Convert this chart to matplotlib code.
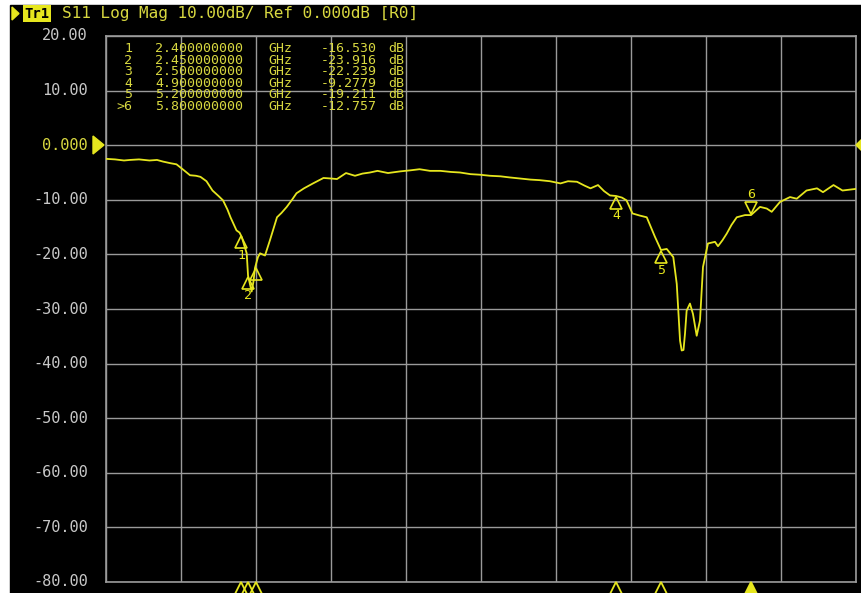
import matplotlib
matplotlib.use("Agg")
import matplotlib.pyplot as plt
from matplotlib.patches import Rectangle, Polygon
from matplotlib.transforms import offset_copy

# ── Data ────────────────────────────────────────────────────────────────────
freq_ghz = [1.50, 1.56, 1.62, 1.66, 1.72, 1.79, 1.84, 1.88, 1.93, 1.97,
            2.02, 2.06, 2.10, 2.13, 2.17, 2.21, 2.25, 2.28, 2.31, 2.33,
            2.37, 2.39, 2.405, 2.42, 2.438, 2.447, 2.46, 2.471, 2.483, 2.493,
            2.513, 2.527, 2.56, 2.593, 2.64, 2.67, 2.705, 2.74, 2.77, 2.82,
            2.88, 2.95, 3.00, 3.04, 3.10, 3.16, 3.21, 3.26, 3.31, 3.38,
            3.46, 3.53, 3.59, 3.66, 3.73, 3.80, 3.86, 3.93, 3.99, 4.06,
            4.13, 4.19, 4.26, 4.33, 4.39, 4.46, 4.53, 4.58, 4.64, 4.69,
            4.73, 4.78, 4.82, 4.86, 4.90, 4.94, 4.97, 5.01, 5.06, 5.105,
            5.16, 5.20, 5.238, 5.282, 5.305, 5.327, 5.338, 5.35, 5.36, 5.371,
            5.393, 5.413, 5.438, 5.46, 5.48, 5.513, 5.56, 5.58, 5.61, 5.638,
            5.67, 5.705, 5.76, 5.80, 5.86, 5.905, 5.938, 5.993, 6.06, 6.105,
            6.17, 6.24, 6.28, 6.35, 6.41, 6.50]
s11_db = [-2.5, -2.6, -2.8, -2.7, -2.6, -2.8, -2.7, -3.0, -3.3, -3.5,
          -4.6, -5.5, -5.6, -5.8, -6.6, -8.3, -9.3, -10.1, -11.8, -13.2,
          -15.6, -16.0, -16.8, -18.2, -19.8, -23.9, -25.5, -26.8, -25.0, -22.5,
          -20.5, -19.8, -20.2, -17.4, -13.2, -12.4, -11.3, -10.0, -8.8, -7.9,
          -7.0, -6.0, -6.1, -6.2, -5.1, -5.6, -5.2, -5.0, -4.7, -5.1,
          -4.8, -4.6, -4.4, -4.7, -4.7, -4.9, -5.0, -5.3, -5.4, -5.6,
          -5.7, -5.9, -6.1, -6.3, -6.4, -6.6, -7.0, -6.6, -6.7, -7.4,
          -7.9, -7.3, -8.4, -9.2, -9.3, -9.6, -10.1, -12.5, -12.9, -13.2,
          -16.8, -19.2, -19.0, -20.5, -25.4, -35.8, -37.6, -37.5, -34.5, -30.3,
          -29.0, -30.9, -34.9, -32.1, -22.3, -18.0, -17.7, -18.5, -17.4, -16.2,
          -14.6, -13.2, -12.8, -12.8, -11.3, -11.6, -12.2, -10.4, -9.5, -9.8,
          -8.3, -7.9, -8.6, -7.3, -8.3, -8.0]

marker_ids   = ["1", "2", "3", "4", "5", "6"]
marker_freq  = [2.40, 2.45, 2.50, 4.90, 5.20, 5.80]
marker_db    = [-16.530, -23.916, -22.239, -9.2779, -19.211, -12.757]
marker_fstr  = ["2.400000000", "2.450000000", "2.500000000",
                "4.900000000", "5.200000000", "5.800000000"]
marker_vstr  = ["-16.530", "-23.916", "-22.239", "-9.2779", "-19.211", "-12.757"]
active_marker = "6"

y_ticks  = [20, 10, 0, -10, -20, -30, -40, -50, -60, -70, -80]
y_labels = ["20.00", "10.00", "0.000", "-10.00", "-20.00", "-30.00",
            "-40.00", "-50.00", "-60.00", "-70.00", "-80.00"]
f_start, f_stop = 1.5, 6.5
header_text = "S11 Log Mag 10.00dB/ Ref 0.000dB [R0]"

# ── Styles ───────────────────────────────────────────────────────────────────
YEL   = "#e6e61e"
YEL2  = "#d8d840"
GRID  = "#9a9a9a"
LBL   = "#c8c8c8"
MONO  = "DejaVu Sans Mono"

W, H = 862, 593
fig = plt.figure(figsize=(W / 100, H / 100), dpi=100, facecolor="white")

# black screen area (white strip on left and top)
fig.patches.append(Rectangle((10 / W, 0), 1 - 10 / W, 1 - 5 / H,
                             transform=fig.transFigure, color="black", zorder=-10))

ax = fig.add_axes([106 / W, 1 - 582 / H, 750 / W, 546 / H])
ax.set_facecolor("black")
ax.set_xlim(f_start, f_stop)
ax.set_ylim(-80, 20)
ax.set_xticks([f_start + 0.5 * i for i in range(11)])
ax.set_yticks(y_ticks)
ax.grid(True, color=GRID, lw=1.0)
ax.tick_params(length=0, labelbottom=False, labelleft=False)
for sp in ax.spines.values():
    sp.set_color(GRID)
    sp.set_linewidth(1.2)

# y labels
for v, lab in zip(y_ticks, y_labels):
    col = YEL2 if v == 0 else LBL
    ax.text(-0.024, v, lab, transform=ax.get_yaxis_transform(), ha="right",
            va="center", color=col, family=MONO, fontsize=11)

# reference arrows at 0 dB
y0 = 1 - 145 / H
fig.patches.append(Polygon([[93 / W, y0 + 9 / H], [93 / W, y0 - 9 / H], [104 / W, y0]],
                           closed=True, transform=fig.transFigure, color=YEL, zorder=5))
fig.patches.append(Polygon([[862 / W, y0 + 6 / H], [862 / W, y0 - 6 / H], [856 / W, y0]],
                           closed=True, transform=fig.transFigure, color=YEL, zorder=5))

# trace
ax.plot(freq_ghz, s11_db, color=YEL, lw=1.3, zorder=4)

# markers on the trace
for mid, f, d in zip(marker_ids, marker_freq, marker_db):
    if mid == active_marker:
        t = offset_copy(ax.transData, fig=fig, x=0, y=7, units="dots")
        ax.plot(f, d, marker="v", ms=9, mfc="none", mec=YEL, mew=1.2,
                transform=t, zorder=5)
        t2 = offset_copy(ax.transData, fig=fig, x=0, y=20, units="dots")
        ax.text(f, d, mid, transform=t2, ha="center", va="center",
                color=YEL, family=MONO, fontsize=9.5)
    else:
        t = offset_copy(ax.transData, fig=fig, x=0, y=-7, units="dots")
        ax.plot(f, d, marker="^", ms=9, mfc="none", mec=YEL, mew=1.2,
                transform=t, zorder=5)
        if mid != "3":
            t2 = offset_copy(ax.transData, fig=fig, x=0, y=-20, units="dots")
            ax.text(f, d, mid, transform=t2, ha="center", va="center",
                    color=YEL, family=MONO, fontsize=9.5)

# markers along the frequency axis
for mid, f in zip(marker_ids, marker_freq):
    t = offset_copy(ax.get_xaxis_transform(), fig=fig, x=0, y=-8, units="dots")
    filled = mid == active_marker
    ax.plot(f, 0, marker="^", ms=11, mfc=YEL if filled else "none", mec=YEL,
            mew=1.3, transform=t, clip_on=False, zorder=6)

# header line
fig.patches.append(Polygon([[12 / W, 1 - 7 / H], [12 / W, 1 - 20 / H], [19 / W, 1 - 13.5 / H]],
                           closed=True, transform=fig.transFigure, color=YEL, zorder=5))
fig.text(24 / W, 1 - 13.5 / H, "Tr1", color="black", family=MONO, fontsize=10,
         fontweight="bold", va="center", ha="left",
         bbox=dict(boxstyle="square,pad=0.1", fc=YEL, ec="none"))
fig.text(62 / W, 1 - 13.5 / H, header_text, color=YEL2, family=MONO, fontsize=11.5,
         va="center", ha="left")

# marker table
for i, (mid, fs, vs) in enumerate(zip(marker_ids, marker_fstr, marker_vstr)):
    y = 1 - (48.5 + 11.6 * i) / H
    lab = (">" + mid) if mid == active_marker else mid
    kw = dict(color=YEL2, family=MONO, fontsize=9.5, va="center")
    fig.text(132 / W, y, lab, ha="right", **kw)
    fig.text(155 / W, y, fs, ha="left", **kw)
    fig.text(268 / W, y, "GHz", ha="left", **kw)
    fig.text(377 / W, y, vs, ha="right", **kw)
    fig.text(388 / W, y, "dB", ha="left", **kw)

fig.savefig("out.png", dpi=100, facecolor=fig.get_facecolor())
